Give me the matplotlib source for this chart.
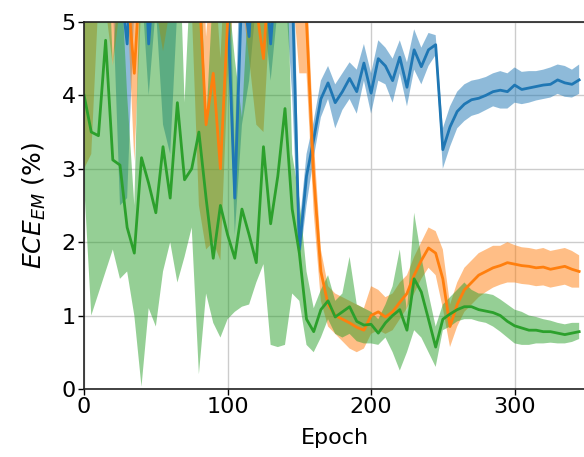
import numpy as np
import matplotlib.pyplot as plt

epochs = np.arange(0, 350, 5)

blue_mean = [7.0, 6.5, 7.0, 6.0, 6.5, 5.6, 4.7, 6.5, 7.0, 4.7,
             6.0, 6.5, 7.0, 6.0, 5.5, 6.5, 6.0, 5.5, 6.5, 6.0,
             5.2, 2.6, 5.5, 4.8, 6.5, 6.0, 4.7, 6.0, 6.5, 5.5,
             1.9, 2.9, 3.4, 3.95, 4.17, 3.9, 4.05, 4.23, 4.05, 4.44,
             4.03, 4.5, 4.4, 4.2, 4.52, 4.11, 4.62, 4.39, 4.62, 4.69,
             3.26, 3.57, 3.78, 3.88, 3.94, 3.96, 4.0, 4.05, 4.07, 4.05,
             4.14, 4.08, 4.1, 4.12, 4.14, 4.15, 4.21, 4.17, 4.15, 4.21]
blue_lo = [5.5, 5.2, 5.5, 5.2, 5.3, 2.5, 2.6, 5.2, 5.5, 4.0,
           5.2, 3.6, 3.2, 5.2, 5.2, 5.0, 5.2, 5.2, 5.5, 5.2,
           5.2, 2.1, 3.6, 4.2, 5.3, 5.2, 4.2, 5.2, 5.5, 4.0,
           1.7, 2.5, 3.15, 3.7, 3.95, 3.55, 3.8, 3.95, 3.75, 4.2,
           3.75, 4.2, 4.15, 3.9, 4.3, 3.85, 4.35, 4.15, 4.4, 4.55,
           3.0, 3.3, 3.55, 3.65, 3.72, 3.75, 3.8, 3.85, 3.82, 3.82,
           3.9, 3.88, 3.9, 3.93, 3.95, 3.97, 4.02, 3.98, 3.97, 4.02]
blue_hi = [8.5, 8.0, 8.5, 7.5, 8.0, 7.1, 6.2, 8.0, 8.5, 6.2,
           7.5, 8.0, 8.5, 7.5, 7.0, 8.0, 7.5, 7.0, 8.0, 7.5,
           6.7, 3.2, 7.0, 6.3, 8.0, 7.5, 6.2, 7.5, 8.0, 7.0,
           2.2, 3.2, 3.65, 4.2, 4.4, 4.15, 4.3, 4.45, 4.35, 4.7,
           4.3, 4.75, 4.65, 4.5, 4.75, 4.45, 4.9, 4.65, 4.85, 4.82,
           3.55, 3.85, 4.05, 4.15, 4.2, 4.22, 4.25, 4.3, 4.33, 4.3,
           4.38, 4.32, 4.33, 4.33, 4.35, 4.38, 4.42, 4.4, 4.35, 4.42]

orange_mean = [7.0, 6.0, 7.0, 6.5, 5.5, 6.0, 5.5, 4.3, 6.0, 7.0,
               6.0, 6.5, 5.8, 6.5, 6.5, 6.0, 5.5, 3.6, 4.3, 3.0,
               5.0, 6.5, 6.0, 5.5, 5.2, 4.5, 6.0, 5.5, 6.0, 6.5,
               5.8, 5.0, 2.9, 1.6, 1.15, 1.0, 0.95, 0.9, 0.84, 0.8,
               1.0, 1.05, 0.98, 1.05, 1.18, 1.3, 1.55, 1.75, 1.92, 1.85,
               1.5, 0.85, 1.15, 1.35, 1.45, 1.55, 1.6, 1.65, 1.68, 1.72,
               1.7, 1.68, 1.67, 1.65, 1.66, 1.63, 1.65, 1.67, 1.63, 1.6]
orange_lo = [3.0, 3.2, 5.3, 5.2, 4.4, 5.2, 5.3, 3.1, 5.3, 5.5,
             5.2, 4.6, 5.2, 5.3, 5.5, 5.2, 2.5, 1.9, 2.0, 1.75,
             4.2, 5.5, 5.3, 4.5, 3.6, 3.5, 5.3, 5.2, 5.3, 5.5,
             4.3, 4.3, 2.4, 1.2, 0.85, 0.75, 0.65, 0.55, 0.5, 0.55,
             0.75, 0.8, 0.75, 0.8, 0.95, 1.1, 1.3, 1.5, 1.65, 1.55,
             1.1, 0.57, 0.85, 1.05, 1.15, 1.25, 1.32, 1.38, 1.42, 1.45,
             1.45, 1.43, 1.42, 1.4, 1.41, 1.38, 1.4, 1.42, 1.38, 1.38]
orange_hi = [8.5, 7.5, 8.5, 8.0, 7.0, 7.5, 7.0, 5.5, 7.5, 8.5,
             7.5, 8.0, 7.3, 8.0, 8.0, 7.5, 7.0, 4.8, 6.0, 4.5,
             6.5, 8.0, 7.5, 7.0, 6.7, 6.0, 7.5, 7.0, 7.5, 8.0,
             7.3, 5.6, 3.4, 1.9, 1.4, 1.3, 1.25, 1.2, 1.15, 1.1,
             1.4, 1.35, 1.25, 1.3, 1.45, 1.55, 1.8, 2.0, 2.2, 2.15,
             1.9, 1.15, 1.45, 1.65, 1.75, 1.85, 1.9, 1.95, 1.95, 2.0,
             1.96, 1.93, 1.92, 1.9, 1.92, 1.88, 1.9, 1.92, 1.88, 1.82]

green_mean = [4.0, 3.5, 3.45, 4.75, 3.12, 3.05, 2.2, 1.85, 3.15, 2.8,
              2.4, 3.3, 2.6, 3.9, 2.85, 3.0, 3.5, 2.6, 1.78, 2.5,
              2.1, 1.78, 2.45, 2.1, 1.72, 3.3, 2.25, 2.9, 3.82, 2.45,
              1.85, 0.95, 0.78, 1.08, 1.2, 0.98, 1.05, 1.12, 0.92, 0.87,
              0.88, 0.76, 0.9, 1.0, 1.08, 0.8, 1.5, 1.32, 0.95, 0.57,
              0.95, 1.02, 1.08, 1.12, 1.12, 1.08, 1.06, 1.04, 1.0, 0.92,
              0.86, 0.83, 0.8, 0.8, 0.78, 0.78, 0.76, 0.74, 0.76, 0.78]
green_lo = [2.8, 1.0, 1.3, 1.6, 1.9, 1.5, 1.6, 1.0, 0.03, 1.1,
            0.85, 1.6, 2.0, 1.45, 1.8, 2.2, 0.2, 1.3, 0.9, 0.7,
            0.95, 1.05, 1.12, 1.15, 1.45, 1.7, 0.6, 0.57, 0.6, 1.3,
            1.2, 0.6, 0.5, 0.7, 0.95, 0.75, 0.7, 0.75, 0.65, 0.62,
            0.62, 0.6, 0.7, 0.5, 0.25, 0.5, 0.8, 0.7, 0.5, 0.3,
            0.8, 0.85, 0.92, 0.95, 0.95, 0.92, 0.9, 0.85, 0.78, 0.7,
            0.62, 0.6, 0.6, 0.62, 0.62, 0.63, 0.62, 0.62, 0.64, 0.68]
green_hi = [6.0, 6.5, 6.5, 7.0, 4.4, 6.0, 4.0, 2.5, 6.5, 6.0,
            5.5, 6.5, 6.0, 7.0, 3.9, 6.0, 6.5, 3.6, 5.5, 6.0,
            5.5, 4.5, 3.7, 5.5, 6.0, 7.0, 6.0, 6.5, 7.0, 3.2,
            2.6, 1.6, 1.1, 1.35, 1.55, 1.2, 1.3, 1.8, 1.15, 1.1,
            1.05, 0.95, 1.15, 1.4, 1.9, 1.05, 2.4, 1.8, 1.3, 0.85,
            1.15, 1.25, 1.35, 1.45, 1.35, 1.3, 1.3, 1.28, 1.22, 1.15,
            1.08, 1.05, 1.0, 0.98, 0.95, 0.93, 0.9, 0.88, 0.9, 0.9]

series = [
    (blue_mean, blue_lo, blue_hi, '#1f77b4'),
    (orange_mean, orange_lo, orange_hi, '#ff7f0e'),
    (green_mean, green_lo, green_hi, '#2ca02c'),
]

fig = plt.figure(figsize=(5.84, 4.57), dpi=100)
ax = fig.add_axes([0.144, 0.149, 0.86, 0.803])

for mean, lo, hi, col in series:
    ax.fill_between(epochs, lo, hi, color=col, alpha=0.5, linewidth=0)
    ax.plot(epochs, mean, color=col, linewidth=2)

ax.set_xlim(0, 350)
ax.set_ylim(0, 5)
ax.set_xticks([0, 100, 200, 300])
ax.set_yticks([0, 1, 2, 3, 4, 5])
ax.grid(True, color='#cccccc', linewidth=1)
ax.set_axisbelow(True)
ax.tick_params(labelsize=16, length=4, width=1, pad=2)
for s in ax.spines.values():
    s.set_color('#222222')
    s.set_linewidth(1.2)

ax.set_xlabel('Epoch', fontsize=16, labelpad=8)
ax.set_ylabel('$ECE_{EM}$ (%)', fontsize=18, labelpad=10)

fig.savefig('out.png', dpi=100)
